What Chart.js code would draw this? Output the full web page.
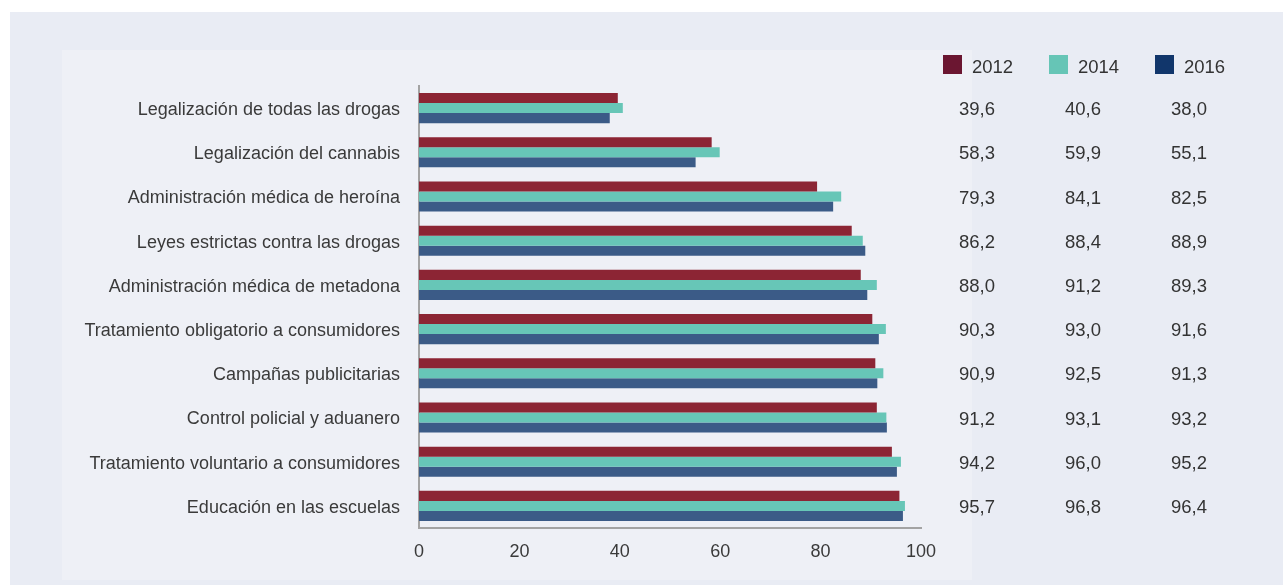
<!DOCTYPE html>
<html>
<head>
<meta charset="utf-8">
<script src="https://cdn.jsdelivr.net/npm/chart.js@4"></script>
<style>
  html, body { margin: 0; padding: 0; background: #fff; }
  #wrap { position: relative; width: 1283px; height: 585px; overflow: hidden; }
  #panel { position: absolute; left: 10px; top: 12px; right: 0; bottom: 0; background: #e9ecf4; }
  #inner { position: absolute; left: 62px; top: 50px; width: 910px; height: 530px; background: #eef0f6; }
  canvas { position: absolute; left: 0; top: 0; }
</style>
</head>
<body>
<div id="wrap">
  <div id="panel"></div>
  <div id="inner"></div>
  <canvas id="chart" width="1283" height="585"></canvas>
</div>
<script>
// Opinion data: share of respondents per measure, by survey year
const categories = [
  'Legalización de todas las drogas',
  'Legalización del cannabis',
  'Administración médica de heroína',
  'Leyes estrictas contra las drogas',
  'Administración médica de metadona',
  'Tratamiento obligatorio a consumidores',
  'Campañas publicitarias',
  'Control policial y aduanero',
  'Tratamiento voluntario a consumidores',
  'Educación en las escuelas'
];
const years = ['2012', '2014', '2016'];
const values2012 = [39.6, 58.3, 79.3, 86.2, 88.0, 90.3, 90.9, 91.2, 94.2, 95.7];
const values2014 = [40.6, 59.9, 84.1, 88.4, 91.2, 93.0, 92.5, 93.1, 96.0, 96.8];
const values2016 = [38.0, 55.1, 82.5, 88.9, 89.3, 91.6, 91.3, 93.2, 95.2, 96.4];
const xTicks = [0, 20, 40, 60, 80, 100];

const barColors = ['#8c2534', '#67c6b7', '#3b5b87'];
const legendColors = ['#6b1631', '#66c5b6', '#11366b'];
const FONT = '"Liberation Sans", Arial, sans-serif';

// legend + value table on the right, rows follow the category scale
const tablePlugin = {
  id: 'valueTable',
  afterDraw(chart) {
    const ctx = chart.ctx;
    const yScale = chart.scales.y;
    const cols = [959, 1065, 1171];
    const series = [values2012, values2014, values2016];
    ctx.save();
    ctx.font = '18.5px ' + FONT;
    ctx.fillStyle = '#333';
    ctx.textBaseline = 'middle';
    ctx.textAlign = 'left';
    years.forEach((yr, k) => {
      ctx.fillStyle = legendColors[k];
      ctx.fillRect(cols[k] - 16, 55, 19, 19);
      ctx.fillStyle = '#333';
      ctx.fillText(yr, cols[k] + 13, 68);
    });
    categories.forEach((c, i) => {
      const y = yScale.getPixelForValue(i) + 2;
      series.forEach((s, k) => {
        ctx.fillText(s[i].toFixed(1).replace('.', ','), cols[k], y);
      });
    });
    ctx.restore();
  }
};

new Chart(document.getElementById('chart'), {
  type: 'bar',
  data: {
    labels: categories,
    datasets: [values2012, values2014, values2016].map((vals, k) => ({
      label: years[k],
      data: vals,
      backgroundColor: barColors[k],
      borderWidth: 0,
      barPercentage: 1.0,
      categoryPercentage: 0.68
    }))
  },
  options: {
    indexAxis: 'y',
    responsive: false,
    animation: false,
    layout: { padding: { top: 86, right: 362, bottom: 0, left: 0 } },
    plugins: {
      legend: { display: false },
      tooltip: { enabled: false }
    },
    scales: {
      x: {
        min: 0,
        max: 100,
        afterBuildTicks: (scale) => { scale.ticks = xTicks.map(v => ({ value: v })); },
        afterFit: (scale) => { scale.height = 57; },
        grid: { display: false, drawTicks: false },
        border: { color: '#a3a3a3', width: 2 },
        ticks: {
          padding: 13,
          color: '#3a3a3a',
          font: { family: FONT, size: 18 }
        }
      },
      y: {
        afterFit: (scale) => { scale.width = 419; },
        grid: { display: false, drawTicks: false },
        border: { color: '#a3a3a3', width: 2 },
        ticks: {
          padding: 19,
          labelOffset: 2,
          color: '#3a3a3a',
          font: { family: FONT, size: 18 }
        }
      }
    }
  },
  plugins: [tablePlugin]
});
</script>
</body>
</html>
